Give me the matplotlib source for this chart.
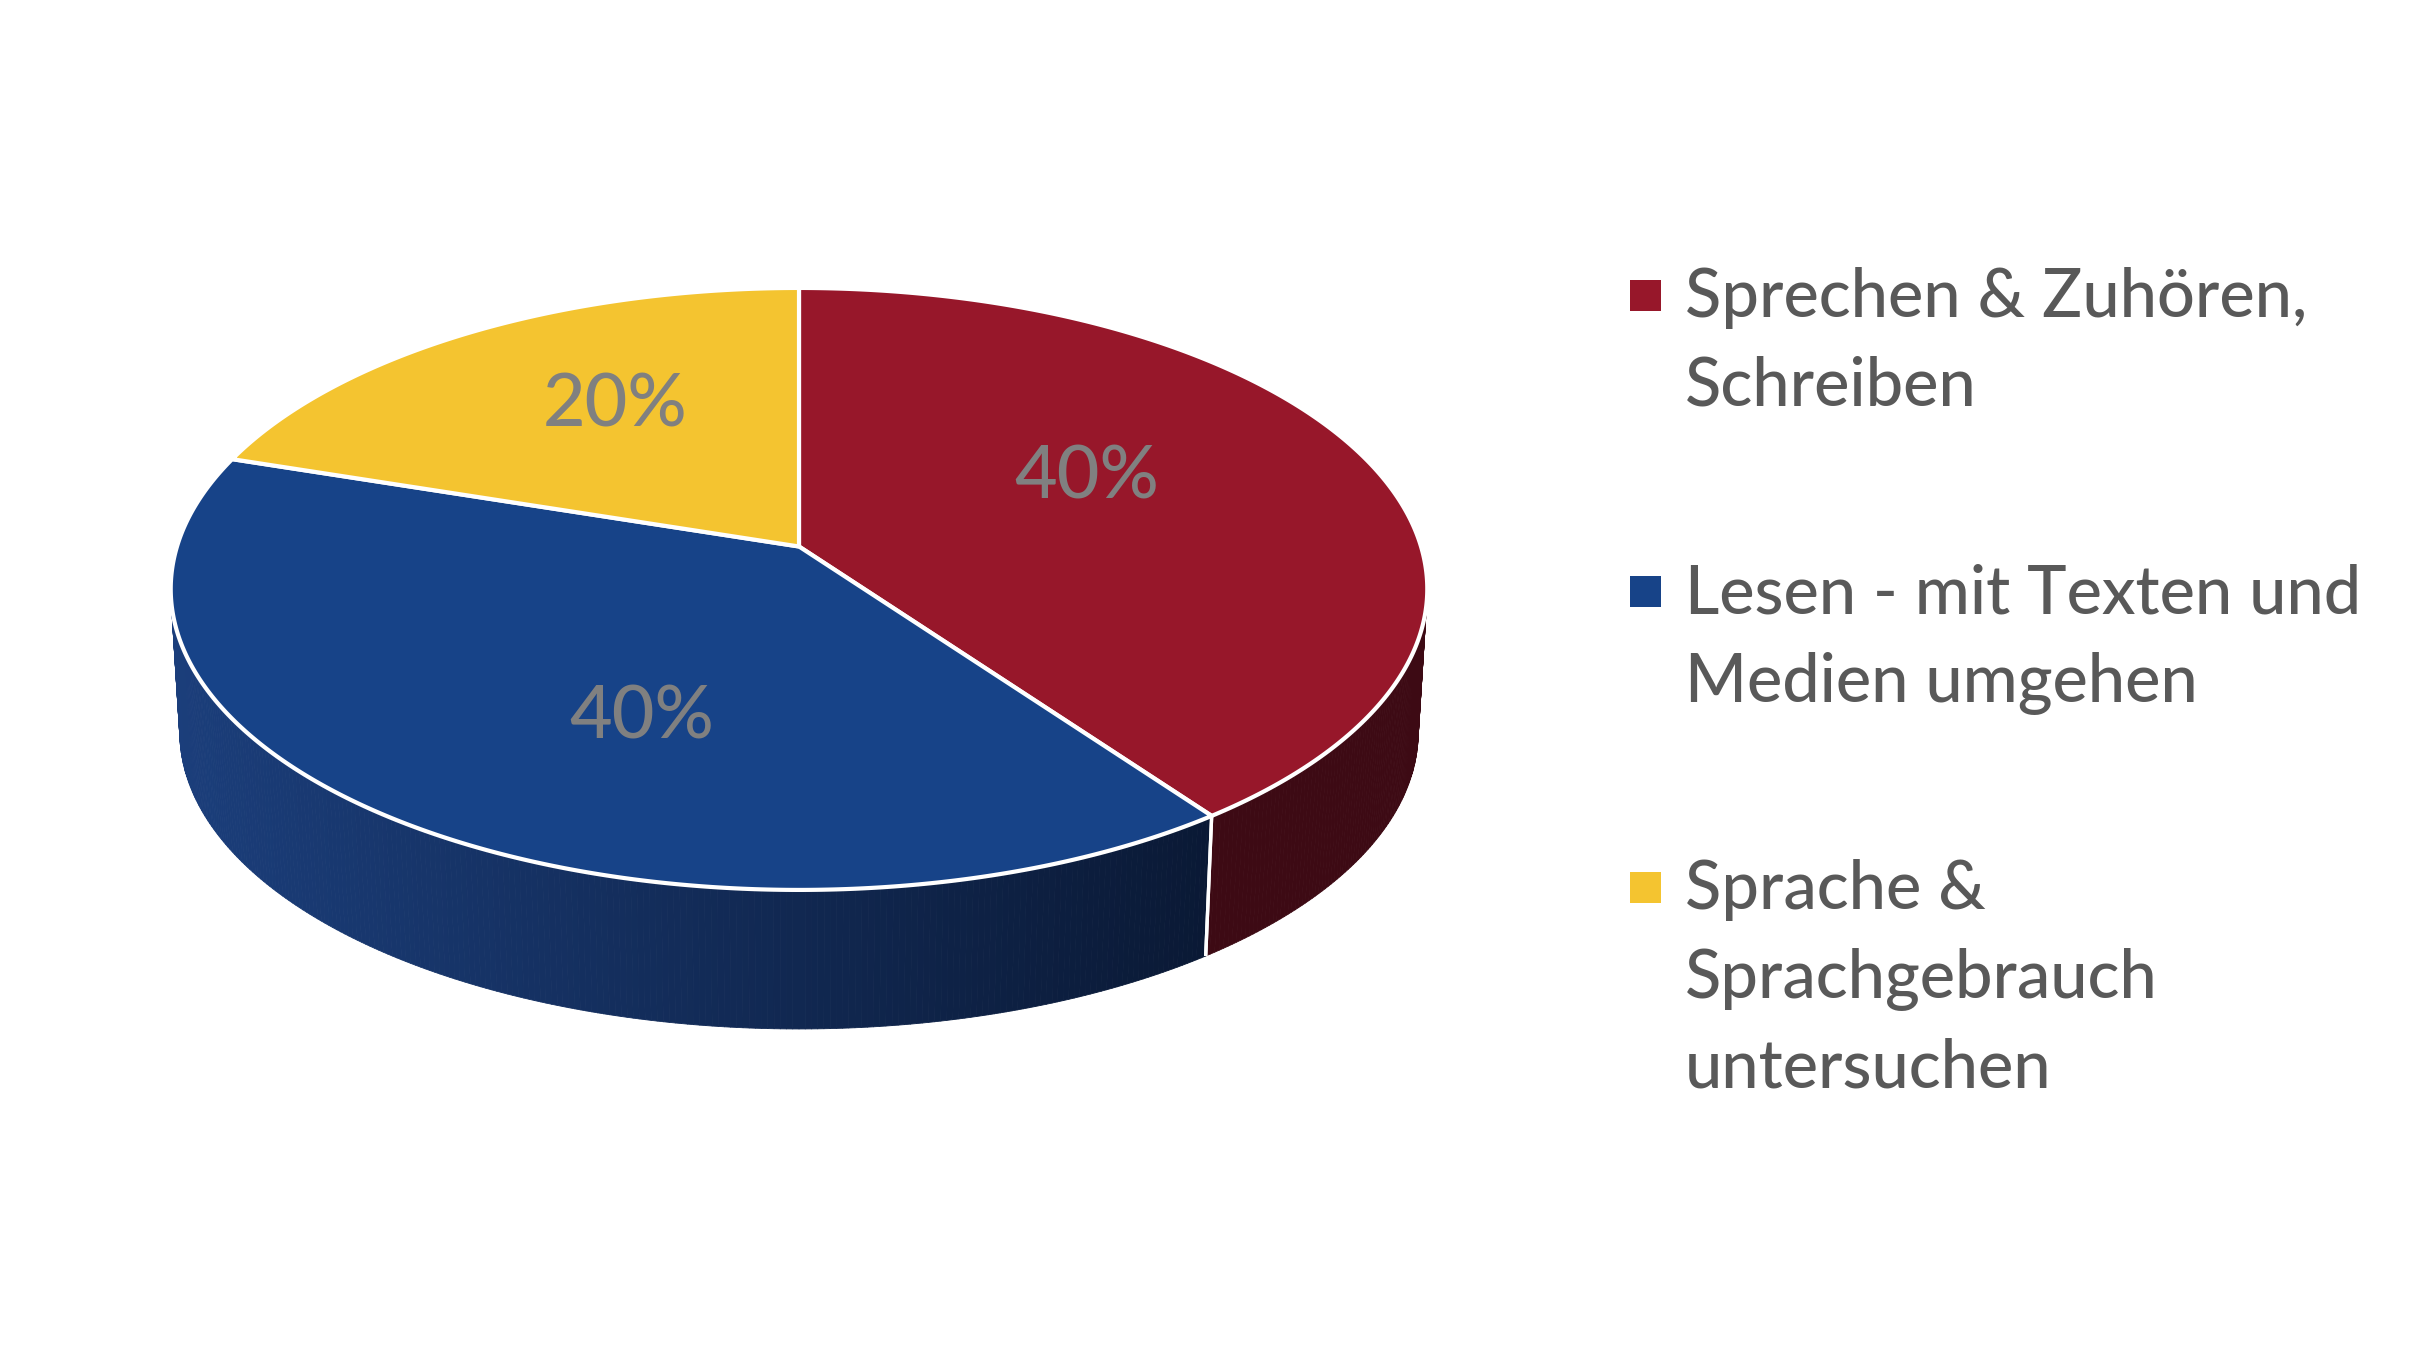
import numpy as np
import matplotlib
matplotlib.use("Agg")
import matplotlib.pyplot as plt
from matplotlib.patches import Polygon, Rectangle
from matplotlib.collections import PolyCollection
from matplotlib.colors import to_rgb

# ---------------- data ----------------
categories = [
    "Sprechen & Zuhören, Schreiben",
    "Lesen - mit Texten und Medien umgehen",
    "Sprache & Sprachgebrauch untersuchen",
]
legend_lines = [
    ["Sprechen & Zuhören,", "Schreiben"],
    ["Lesen - mit Texten und", "Medien umgehen"],
    ["Sprache &", "Sprachgebrauch", "untersuchen"],
]
values = [40, 40, 20]
value_labels = ["40%", "40%", "20%"]

# ---------------- style ----------------
top_colors = ["#97172A", "#174388", "#F4C430"]
side_left_colors = ["#3D0A14", "#1B3E7B", "#8A6A10"]
side_right_colors = ["#3D0A14", "#0A1935", "#8A6A10"]
TEXT_COLOR = "#595959"
LABEL_COLOR = "#808080"
FONT = ["Lato", "DejaVu Sans"]
WEIGHT = "medium"
EDGE_LW = 3.0

W, H = 2415, 1356
fig = plt.figure(figsize=(W / 100, H / 100), dpi=100)
ax = fig.add_axes([0, 0, 1, 1])
ax.set_xlim(0, W)
ax.set_ylim(H, 0)
ax.axis("off")

# perspective disc geometry (pixel units)
CX, CY = 799.0, 546.5
S, SK, P = 622.0, 295.0, 0.141
SB, DROP = 613.0, 144.0


def top_pt(r, phi):
    a = np.radians(phi)
    u, v = r * np.sin(a), r * np.cos(a)
    w = 1 + P * v
    return CX + S * u / w, CY - SK * v / w


def bot_pt(phi):
    a = np.radians(phi)
    u, v = np.sin(a), np.cos(a)
    w = 1 + P * v
    return CX + SB * u / w, CY + DROP - SK * (SB / S) * v / w


fr = np.array(values, dtype=float) / sum(values)
ends = np.cumsum(fr) * 360.0
starts = ends - fr * 360.0

# ---- side faces (front half only) ----
FRONT_LO, FRONT_HI = 70.0, 290.0
quads, qcols, qdepth = [], [], []
for i in range(len(values)):
    lo, hi = max(starts[i], FRONT_LO), min(ends[i], FRONT_HI)
    if hi <= lo:
        continue
    ph = np.linspace(lo, hi, max(int((hi - lo) * 2), 2) + 1)
    xs_all = [top_pt(1, p)[0] for p in ph]
    xmin, xmax = min(xs_all), max(xs_all)
    cl, cr = np.array(to_rgb(side_left_colors[i])), np.array(to_rgb(side_right_colors[i]))
    for a0, a1 in zip(ph[:-1], ph[1:]):
        t0, t1 = top_pt(1, a0), top_pt(1, a1)
        b0, b1 = bot_pt(a0), bot_pt(a1)
        quads.append([t0, t1, b1, b0])
        xm = 0.5 * (t0[0] + t1[0])
        t = 0 if xmax == xmin else (xm - xmin) / (xmax - xmin)
        qcols.append(tuple(cl + (cr - cl) * t))
        qdepth.append(np.cos(np.radians(0.5 * (a0 + a1))))
order = np.argsort(qdepth)[::-1]
pc = PolyCollection([quads[k] for k in order], facecolors=[qcols[k] for k in order],
                    edgecolors=[qcols[k] for k in order], linewidths=0.6, zorder=1)
ax.add_collection(pc)

# white seam on side at visible wedge boundaries
for b in list(starts) + list(ends):
    bb = b % 360
    if FRONT_LO + 10 < bb < FRONT_HI - 10:
        t, bo = top_pt(1, bb), bot_pt(bb)
        ax.plot([t[0], bo[0]], [t[1], bo[1]], color="white", lw=EDGE_LW * 0.8, zorder=2,
                solid_capstyle="butt")

# ---- top faces ----
for i in range(len(values)):
    ph = np.linspace(starts[i], ends[i], 300)
    pts = [top_pt(0, 0)] + [top_pt(1, p) for p in ph]
    ax.add_patch(Polygon(pts, closed=True, facecolor=top_colors[i], edgecolor="white",
                         linewidth=EDGE_LW, joinstyle="round", zorder=3))

# ---- value labels ----
LABEL_R = 0.55
LABEL_NUDGE = [(-30, -26), (57, 25.5), (5.5, -23)]
for i in range(len(values)):
    mid = 0.5 * (starts[i] + ends[i])
    x, y = top_pt(LABEL_R, mid)
    x += LABEL_NUDGE[i][0]
    y += LABEL_NUDGE[i][1]
    ax.text(x, y + 26.5, value_labels[i], ha="center", va="baseline", fontsize=53,
            color=LABEL_COLOR, family=FONT, fontweight=WEIGHT, zorder=5)

# ---- legend ----
LEG_SQ_X, LEG_TXT_X = 1645, 1685
LEG_BASE0, LEG_ENTRY_DY, LEG_LINE_DY = 317, 296, 89
SQ = 31
for i, lines in enumerate(legend_lines):
    base = LEG_BASE0 + LEG_ENTRY_DY * i
    ax.add_patch(Rectangle((LEG_SQ_X - SQ / 2, base - 22 - SQ / 2), SQ, SQ,
                           facecolor=top_colors[i], edgecolor="none", zorder=5))
    for j, ln in enumerate(lines):
        ax.text(LEG_TXT_X, base + LEG_LINE_DY * j, ln, ha="left", va="baseline",
                fontsize=48, color=TEXT_COLOR, family=FONT, fontweight=WEIGHT, zorder=5)

fig.savefig("out.png", dpi=100, facecolor="white")
